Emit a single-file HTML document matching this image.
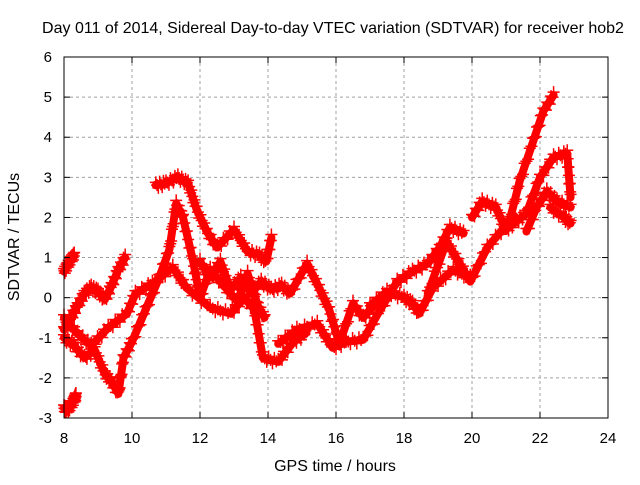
<!DOCTYPE html>
<html><head><meta charset="utf-8"><style>
body{margin:0;background:#fff;}
svg text{font-family:"Liberation Sans",sans-serif;font-size:15px;fill:#000;}
</style></head><body>
<svg id="chart" width="640" height="480">
<rect width="640" height="480" fill="#fff"/>
<g id="grid"></g><g id="marks"></g><g id="axes"></g>
<text x="333" y="33" text-anchor="middle" style="font-size:16px">Day 011 of 2014, Sidereal Day-to-day VTEC variation (SDTVAR) for receiver hob2</text>
<text x="335" y="471" text-anchor="middle" style="font-size:16px">GPS time / hours</text>
<text transform="translate(19,237) rotate(-90)" text-anchor="middle" style="font-size:16px">SDTVAR / TECUs</text>
</svg>
<script>
const xTicks=[8,10,12,14,16,18,20,22,24];
const yTicks=[-3,-2,-1,0,1,2,3,4,5,6];
const trackA_t=[8.0,8.1,8.2,8.3];
const trackA_v=[0.65,0.8,0.95,1.05];
const trackB_t=[8.0,8.1,8.2,8.3,8.35];
const trackB_v=[-2.75,-2.8,-2.7,-2.55,-2.45];
const trackC_t=[8.0,8.2,8.4,8.6,8.8,9.0,9.2,9.4,9.6,9.8];
const trackC_v=[-0.8,-0.5,-0.2,0.1,0.25,0.15,-0.05,0.3,0.7,1.0];
const trackD_t=[8.0,8.3,8.6,8.9,9.2,9.4,9.6,9.75,10.0,10.4,10.8,11.1,11.3,11.5,11.8,12.0,12.3,12.7,13.1,13.4,13.7,13.9];
const trackD_v=[-1.0,-1.2,-1.5,-1.3,-1.9,-2.1,-2.4,-1.5,-1.1,-0.3,0.5,1.2,2.35,2.0,0.9,0.0,0.7,0.3,-0.1,0.6,-0.2,-0.5];
const trackE_t=[8.0,8.4,8.8,9.3,9.85,10.1,10.6,11.2,11.6,12.3,12.9,13.3,13.6,13.85,14.3,14.75,15.1];
const trackE_v=[-0.5,-0.9,-1.2,-0.75,-0.4,0.1,0.35,0.75,0.25,-0.25,-0.4,0.0,-0.3,-1.5,-1.6,-1.1,-0.9];
const trackF_t=[10.7,11.0,11.35,11.65,11.9,12.2,12.5,13.0,13.4,13.75,13.95,14.1];
const trackF_v=[2.8,2.85,3.0,2.85,2.2,1.65,1.25,1.7,1.15,1.05,0.9,1.5];
const trackG_t=[12.0,12.3,12.6,12.9,13.2,13.5,13.8,14.1,14.4,14.65,15.15,15.5,15.8,16.1,16.5,16.8,17.1];
const trackG_v=[0.9,0.5,0.9,0.2,0.5,0.1,0.4,0.2,0.3,0.1,0.85,0.25,-0.3,-1.15,-0.15,-0.5,-0.2];
const trackH_t=[14.3,14.85,15.45,15.9,16.3,16.8,17.3,17.8,18.25,18.7,19.05,19.35,19.75];
const trackH_v=[-1.15,-0.8,-0.65,-1.25,-1.1,-1.05,-0.3,0.4,0.65,0.85,1.25,1.75,1.6];
const trackI_t=[17.0,17.5,18.0,18.25,18.45,18.85,19.45,19.95];
const trackI_v=[-0.2,0.15,0.0,-0.15,-0.4,0.25,0.7,0.5];
const trackJ_t=[18.7,19.25,19.6,19.95,20.45,21.1,21.4,21.8,22.1,22.4];
const trackJ_v=[0.1,1.4,0.9,0.4,1.25,1.9,2.9,3.9,4.65,5.05];
const trackK_t=[20.0,20.3,20.7,21.0,21.3,21.6,22.0,22.4,22.8,22.9];
const trackK_v=[2.0,2.4,2.25,1.7,1.9,2.1,3.0,3.5,3.6,2.5];
const trackL_t=[21.6,21.9,22.2,22.5,22.9];
const trackL_v=[1.65,2.25,2.65,2.4,2.25];
const trackM_t=[22.3,22.7,22.9];
const trackM_v=[2.25,2.0,1.85];
const tracks=[[trackA_t,trackA_v],[trackB_t,trackB_v],[trackC_t,trackC_v],[trackD_t,trackD_v],[trackE_t,trackE_v],[trackF_t,trackF_v],[trackG_t,trackG_v],[trackH_t,trackH_v],[trackI_t,trackI_v],[trackJ_t,trackJ_v],[trackK_t,trackK_v],[trackL_t,trackL_v],[trackM_t,trackM_v]];
const L=64,R=608,T=57,B=418;
function xs(t){return L+(t-8)/(24-8)*(R-L);}
function ys(v){return B-(v+3)/9*(B-T);}
const NS="http://www.w3.org/2000/svg";
function mk(tag,attrs,parent){const e=document.createElementNS(NS,tag);for(const k in attrs)e.setAttribute(k,attrs[k]);parent.appendChild(e);return e;}
const grid=document.getElementById('grid'),axes=document.getElementById('axes'),marks=document.getElementById('marks');
xTicks.forEach(t=>{const x=xs(t);
 if(t>8&&t<24){const g=mk('line',{x1:x,x2:x,y1:T,y2:B,stroke:'#a0a0a0','stroke-dasharray':'3,3'},grid);}
 mk('line',{x1:x,x2:x,y1:B,y2:B-6,stroke:'#000'},axes);mk('line',{x1:x,x2:x,y1:T,y2:T+6,stroke:'#000'},axes);
 const tx=mk('text',{x:x,y:B+25,'text-anchor':'middle'},axes);tx.textContent=t;
 });
yTicks.forEach(v=>{const y=ys(v);
 if(v>-3&&v<6){const g=mk('line',{x1:L,x2:R,y1:y,y2:y,stroke:'#a0a0a0','stroke-dasharray':'3,3'},grid);}
 mk('line',{x1:L,x2:L+6,y1:y,y2:y,stroke:'#000'},axes);mk('line',{x1:R,x2:R-6,y1:y,y2:y,stroke:'#000'},axes);
 const tx=mk('text',{x:52,y:y+5,'text-anchor':'end'},axes);tx.textContent=v;
 });
const fr=mk('rect',{x:L,y:T,width:R-L,height:B-T,fill:'none',stroke:'#000'},axes);

tracks.forEach(([ts,vs])=>{
 const g=mk('g',{},marks);
 
 
 const pts=ts.map((t,i)=>xs(t)+','+ys(vs[i])).join(' ');
 mk('polyline',{points:pts,fill:'none',stroke:'#f00','stroke-width':8,'stroke-linejoin':'round','stroke-linecap':'round'},g);
 for(let i=0;i<ts.length;i++){
  const n=i<ts.length-1?8:1;
  for(let k=0;k<n;k++){
   const f=k/n;const t=i<ts.length-1?ts[i]+(ts[i+1]-ts[i])*f:ts[i];const v=i<ts.length-1?vs[i]+(vs[i+1]-vs[i])*f:vs[i];
   const x=xs(t),y=ys(v)+((k%3)-1)*3;
   mk('path',{d:`M${x-6},${y}h12M${x},${y-6}v12`,stroke:'#f00','stroke-width':1.5},g);
  }
 }
});
</script>
</body></html>
